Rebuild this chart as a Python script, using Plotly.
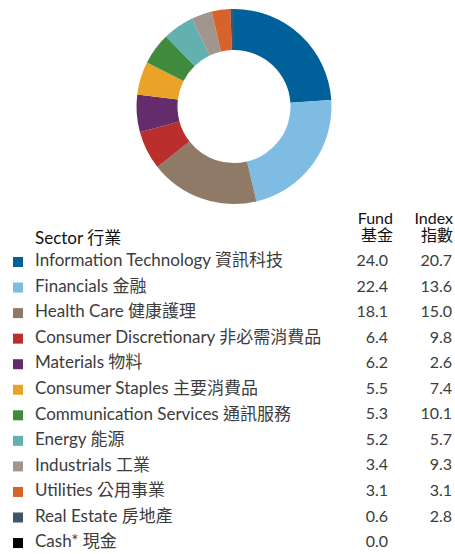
import plotly.graph_objects as go

# Sector allocation data
sectors = [
    "Information Technology 資訊科技",
    "Financials 金融",
    "Health Care 健康護理",
    "Consumer Discretionary 非必需消費品",
    "Materials 物料",
    "Consumer Staples 主要消費品",
    "Communication Services 通訊服務",
    "Energy 能源",
    "Industrials 工業",
    "Utilities 公用事業",
    "Real Estate 房地產",
    "Cash* 現金",
]
fund = [24.0, 22.4, 18.1, 6.4, 6.2, 5.5, 5.3, 5.2, 3.4, 3.1, 0.6, 0.0]
index = [20.7, 13.6, 15.0, 9.8, 2.6, 7.4, 10.1, 5.7, 9.3, 3.1, 2.8, None]
colors = [
    "#00609a", "#7fbce3", "#8f7a68", "#ba2f2c", "#652c6b", "#e9a427",
    "#3f8a3d", "#62b0b0", "#a1968d", "#d8632a", "#3f5568", "#000000",
]

FONT = "Lato, 'Noto Sans CJK TC', sans-serif"
TEXT_COLOR = "#3c3c3c"
W, H = 455, 554

fig = go.Figure()

# Donut of fund weights
fig.add_trace(go.Pie(
    labels=sectors,
    values=fund,
    marker=dict(colors=colors, line=dict(width=0)),
    hole=0.58,
    sort=False,
    direction="clockwise",
    rotation=0,
    textinfo="none",
    hoverinfo="label+value",
    showlegend=False,
    domain=dict(x=[136 / W, 332 / W], y=[1 - 204 / H, 1 - 9 / H]),
))

rows = list(range(len(sectors)))
row_top = 262
row_step = 25.55

# Colour keys
fig.add_trace(go.Scatter(
    x=[18] * len(rows), y=rows, mode="markers",
    marker=dict(symbol="square", size=10, color=colors, line=dict(width=0)),
    hoverinfo="skip", showlegend=False, cliponaxis=False,
))

# Sector names
fig.add_trace(go.Scatter(
    x=[35] * len(rows), y=rows, mode="text", text=sectors,
    textposition="middle right",
    textfont=dict(family=FONT, size=17, color=TEXT_COLOR),
    hoverinfo="skip", showlegend=False, cliponaxis=False,
))

# Fund weights
fig.add_trace(go.Scatter(
    x=[388] * len(rows), y=rows, mode="text",
    text=[f"{v:.1f}" for v in fund],
    textposition="middle left",
    textfont=dict(family=FONT, size=16, color=TEXT_COLOR),
    hoverinfo="skip", showlegend=False, cliponaxis=False,
))

# Index weights
fig.add_trace(go.Scatter(
    x=[452] * len(rows), y=rows, mode="text",
    text=["" if v is None else f"{v:.1f}" for v in index],
    textposition="middle left",
    textfont=dict(family=FONT, size=16, color=TEXT_COLOR),
    hoverinfo="skip", showlegend=False, cliponaxis=False,
))

# Column headers
headers = [
    (35, -0.86, "Sector 行業", "middle right", 17),
    (393, -1.64, "Fund", "middle left", 16),
    (393, -0.96, "基金", "middle left", 16),
    (453, -1.64, "Index", "middle left", 16),
    (453, -0.96, "指數", "middle left", 16),
]
fig.add_trace(go.Scatter(
    x=[h[0] for h in headers], y=[h[1] for h in headers], mode="text",
    text=[h[2] for h in headers],
    textposition=[h[3] for h in headers],
    textfont=dict(family=FONT, size=[h[4] for h in headers], color="#111111"),
    hoverinfo="skip", showlegend=False, cliponaxis=False,
))

y_top = (0 - row_top) / row_step
y_bot = (H - row_top) / row_step

fig.update_layout(
    width=W, height=H,
    margin=dict(l=0, r=0, t=0, b=0),
    paper_bgcolor="white", plot_bgcolor="rgba(0,0,0,0)",
    xaxis=dict(range=[0, W], visible=False, fixedrange=True, domain=[0, 1]),
    yaxis=dict(range=[y_bot, y_top], visible=False, fixedrange=True, domain=[0, 1]),
    font=dict(family=FONT),
)

fig.write_html("out.html")
